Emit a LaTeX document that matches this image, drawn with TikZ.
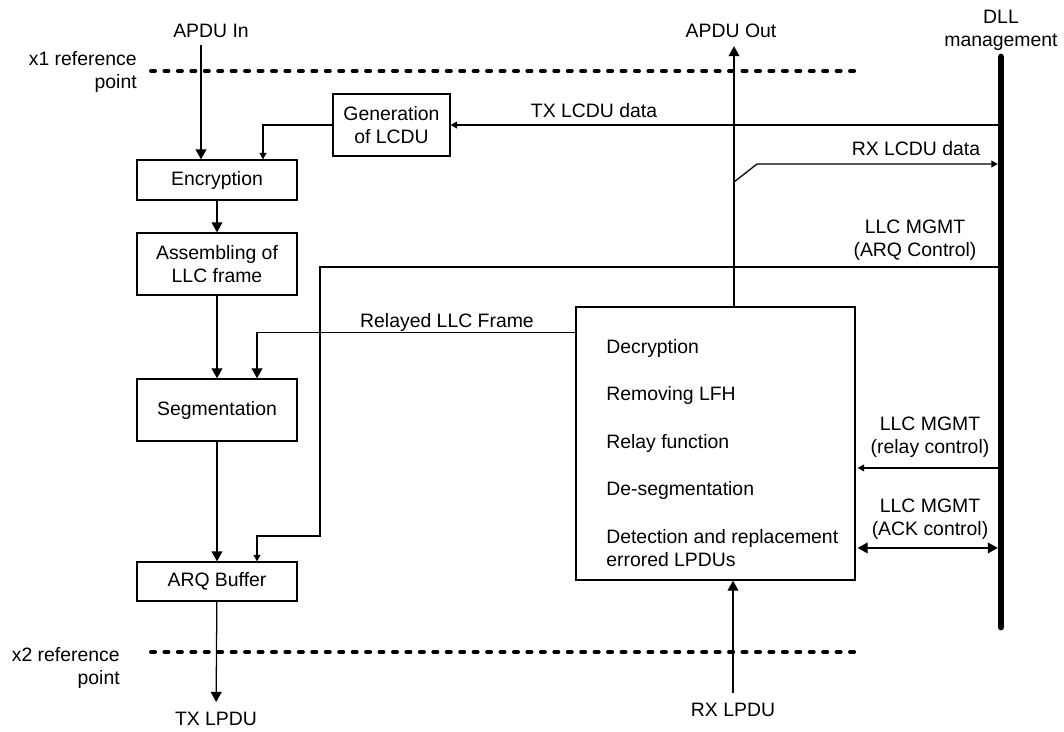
\documentclass[tikz,border=0pt]{standalone}
\usepackage{fontspec}
\setmainfont{Liberation Sans}
\usetikzlibrary{arrows.meta}

\begin{document}
\begin{tikzpicture}[x=0.025cm, y=-0.025cm,
  txt/.style={inner sep=0pt, align=center, font=\fontsize{13.8}{16.3}\selectfont},
  blk/.style={txt, rectangle, draw, line width=0.9pt, minimum width=4cm},
  ar/.style={-{Triangle[length=0.25cm, width=0.27cm]}, line width=0.9pt},
  sar/.style={-{Triangle[length=0.16cm, width=0.17cm]}, line width=0.9pt},
  dar/.style={{Triangle[length=0.25cm, width=0.27cm]}-{Triangle[length=0.25cm, width=0.27cm]}, line width=0.9pt},
  refl/.style={line width=0.1cm, line cap=round, dash pattern=on 0.1cm off 0.236cm},
]
\useasboundingbox (0,0) rectangle (1064,731);
% transmit chain
\node[blk, minimum height=1cm] (enc) at (217,180) {Encryption};
\node[blk, minimum height=1.55cm] (asm) at (217,264) {Assembling of\\LLC frame};
\node[blk, minimum height=1.55cm] (seg) at (217,410) {Segmentation};
\node[blk, minimum height=0.975cm] (arq) at (217,581.5) {ARQ Buffer};
\node[blk, minimum width=2.925cm, minimum height=1.55cm] (gen) at (391.5,125) {Generation\\of LCDU};
% receive block
\node[blk, minimum width=6.975cm, minimum height=6.825cm] (rx) at (715.5,443.5) {};
\node[txt, anchor=base west] (dec) at (606,353) {Decryption};
\node[txt, anchor=base west] (rem) at (606,400) {Removing LFH};
\node[txt, anchor=base west] (rel) at (606,448) {Relay function};
\node[txt, anchor=base west] (dseg) at (606,495) {De-segmentation};
\node[txt, anchor=base west] (det) at (606,543) {Detection and replacement};
\node[txt, anchor=base west] (err) at (606,566) {errored LPDUs};
% outer labels
\node[txt] (apin) at (211,31) {APDU In};
\node[txt] (apout) at (731,31) {APDU Out};
\node[txt] (dll) at (1001,30) {DLL\\management};
\node[txt, anchor=east, align=right] (x1) at (137,72) {x1 reference\\point};
\node[txt, anchor=east, align=right] (x2) at (120,668) {x2 reference\\point};
\node[txt] (txl) at (216,719) {TX LPDU};
\node[txt] (rxl) at (733,710) {RX LPDU};
\node[txt] (txd) at (594,111) {TX LCDU data};
\node[txt] (rxd) at (916,149) {RX LCDU data};
\node[txt] (arqc) at (915,240) {LLC MGMT\\(ARQ Control)};
\node[txt] (rly) at (447,322) {Relayed LLC Frame};
\node[txt] (rlyc) at (930,437) {LLC MGMT\\(relay control)};
\node[txt] (ackc) at (930,519) {LLC MGMT\\(ACK control)};

\coordinate (bt) at (1001,57); \coordinate (bb) at (1001,627);
\coordinate (inx) at (201,0); \coordinate (outx) at (734,0);
\coordinate (rl) at ([yshift=-0.65cm]rx.north west);
\coordinate (ac) at (1001,267); \coordinate (ab) at (320,536);
\coordinate (rd1) at (734,182); \coordinate (rd2) at (757,164);
\coordinate (rc) at ([yshift=-0.61cm]rx.east);
\coordinate (kc) at ([yshift=-2.61cm]rx.east);

\draw[refl] (151,71) -- (857,71);
\draw[refl] (151,652) -- (857,652);

\draw[ar, shorten <=0.18cm] (apin.south -| inx) -- (enc.north -| inx);
\draw[sar] (gen.west) -| ([xshift=1.15cm]enc.north);
\draw[ar] (enc) -- (asm); \draw[ar] (asm) -- (seg); \draw[ar] (seg) -- (arq);
\draw[ar, shorten >=0.25cm] (arq) -- (txl);
\draw[ar] (rl) -| ([xshift=1cm]seg.north);
\draw[sar] (ac) -| (ab) -| ([xshift=1cm]arq.north);
\draw[sar] (bt |- gen.east) -- (gen.east);
\draw[ar, shorten >=0.2cm] (rx.north -| outx) -- (apout.south -| outx);
\draw[sar, shorten >=0.08cm] (rd1) -- (rd2) -- (bt |- rd2);
\draw[sar, shorten >=0.05cm] (bt |- rc) -- (rc);
\draw[dar, shorten <=0.05cm, shorten >=0.08cm] (kc) -- (bt |- kc);
\draw[ar, shorten <=0.25cm] (rxl.north) -- (rx.south -| rxl.north);

\draw[line width=0.17cm, line cap=round] (bt) -- (bb);
\end{tikzpicture}
\end{document}
